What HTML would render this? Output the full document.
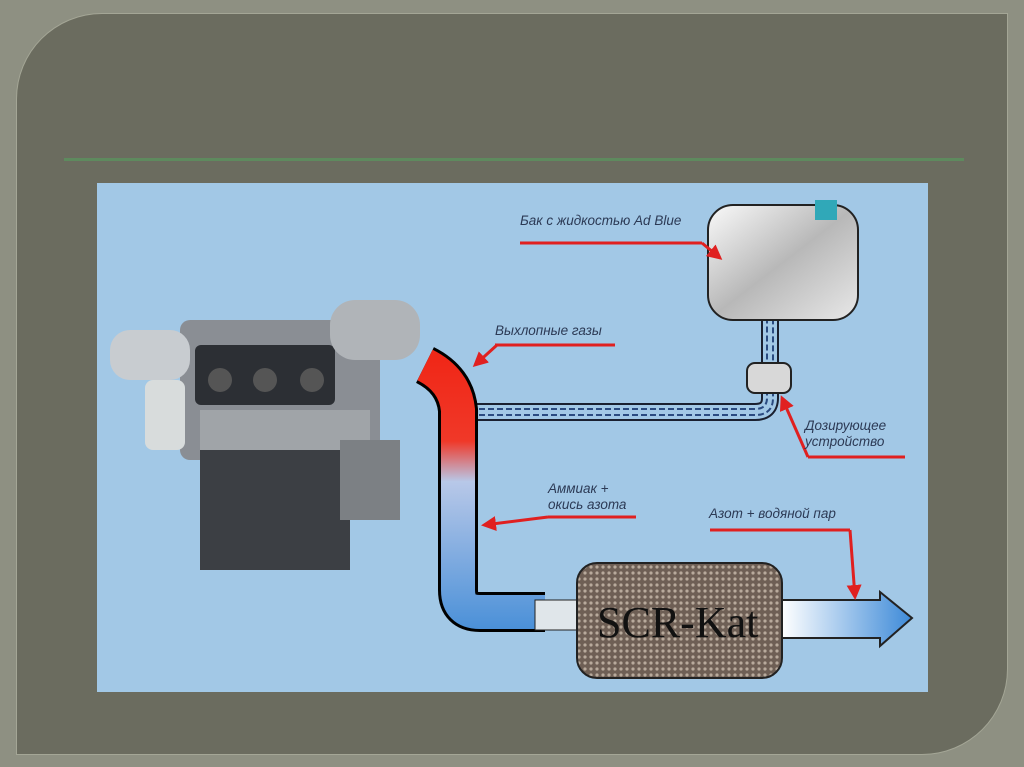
<!DOCTYPE html>
<html><head><meta charset="utf-8"><style>
body{margin:0;width:1024px;height:767px;background:#8e9082;overflow:hidden;font-family:"Liberation Sans",sans-serif}
#panel{position:absolute;left:17px;top:14px;width:990px;height:740px;background:#6b6c5f;border-radius:85px 0 85px 0;box-shadow:0 0 0 1px #a4a696}
#line{position:absolute;left:64px;top:158px;width:900px;height:3px;background:#5e8a5e}
#pic{position:absolute;left:97px;top:183px;width:831px;height:509px;background:#a2c8e6}
.t{position:absolute;font-style:italic;font-size:13.5px;color:#2c3a55}
</style></head><body>
<div id="panel"></div><div id="line"></div>
<div id="pic">
<svg width="831" height="509" viewBox="97 183 831 509" xmlns="http://www.w3.org/2000/svg">
<defs>
<linearGradient id="pipe" gradientUnits="userSpaceOnUse" x1="0" y1="360" x2="0" y2="630">
<stop offset="0" stop-color="#f02818"/><stop offset="0.3" stop-color="#f03828"/><stop offset="0.45" stop-color="#b8c8e8"/><stop offset="1" stop-color="#4a90d8"/></linearGradient>
<linearGradient id="tank" x1="0" y1="0" x2="1" y2="1"><stop offset="0" stop-color="#fafafa"/><stop offset="0.5" stop-color="#b8b8b8"/><stop offset="1" stop-color="#e8e8e8"/></linearGradient>
<pattern id="mesh" width="6" height="6" patternUnits="userSpaceOnUse"><rect width="6" height="6" fill="#6e5f55"/><circle cx="3" cy="3" r="1.6" fill="#b8aa9c"/></pattern>
<linearGradient id="out" x1="0" x2="1"><stop offset="0" stop-color="#ffffff"/><stop offset="1" stop-color="#3d8ad8"/></linearGradient>
<marker id="ah" markerWidth="5" markerHeight="5" refX="4" refY="2.5" orient="auto"><path d="M0,0 L5,2.5 L0,5 Z" fill="#e02020"/></marker>
</defs>
<g>
<rect x="180" y="320" width="200" height="140" fill="#8a8e94" rx="10"/>
<rect x="200" y="440" width="150" height="130" fill="#3c3f44"/>
<rect x="110" y="330" width="80" height="50" fill="#c8ccd0" rx="20"/>
<rect x="145" y="380" width="40" height="70" fill="#d8dcdc" rx="8"/>
<rect x="195" y="345" width="140" height="60" fill="#2c2f34" rx="6"/>
<circle cx="220" cy="380" r="12" fill="#555"/><circle cx="265" cy="380" r="12" fill="#555"/><circle cx="312" cy="380" r="12" fill="#555"/>
<rect x="330" y="300" width="90" height="60" fill="#b0b4b8" rx="25"/>
<rect x="200" y="410" width="170" height="40" fill="#a0a4a8"/>
<rect x="340" y="440" width="60" height="80" fill="#7c8084"/>
</g>
<path d="M470 412 L755 412 Q770 412 770 398 L770 318" fill="none" stroke="#1a2030" stroke-width="18"/>
<path d="M470 412 L755 412 Q770 412 770 398 L770 318" fill="none" stroke="#a2c8e6" stroke-width="14"/>
<path d="M470 409 L755 409 Q767 409 767 398 L767 318 M470 415 L755 415 Q773 415 773 398 L773 318" fill="none" stroke="#2a4a80" stroke-width="2" stroke-dasharray="6 3"/>
<path d="M425 365 Q455 380 458 410 L458 590 Q458 612 480 612 L545 612" fill="none" stroke="#000" stroke-width="40"/>
<path d="M425 365 Q455 380 458 410 L458 590 Q458 612 480 612 L545 612" fill="none" stroke="url(#pipe)" stroke-width="34"/>
<rect x="747" y="363" width="44" height="30" rx="8" fill="#d8d8d8" stroke="#222" stroke-width="2"/>
<rect x="708" y="205" width="150" height="115" rx="25" fill="url(#tank)" stroke="#222" stroke-width="2"/>
<rect x="815" y="200" width="22" height="20" fill="#30a8b8"/>
<path d="M535 600 L580 600 L580 630 L535 630 Z" fill="#e0e6ea" stroke="#222"/>
<rect x="577" y="563" width="205" height="115" rx="20" fill="url(#mesh)" stroke="#222" stroke-width="2"/>
<path d="M782 600 L880 600 L880 592 L912 618 L880 646 L880 638 L782 638 Z" fill="url(#out)" stroke="#222" stroke-width="2"/>
<text x="597" y="637" font-family="Liberation Serif,serif" font-size="44" fill="#111">SCR-Kat</text>
<g stroke="#e02020" stroke-width="3" fill="none">
<line x1="520" y1="243" x2="702" y2="243"/><polyline points="702,243 720,258" marker-end="url(#ah)"/>
<line x1="495" y1="345" x2="615" y2="345"/><polyline points="497,345 475,365" marker-end="url(#ah)"/>
<line x1="808" y1="457" x2="905" y2="457"/><polyline points="808,457 782,398" marker-end="url(#ah)"/>
<line x1="548" y1="517" x2="636" y2="517"/><polyline points="548,517 484,525" marker-end="url(#ah)"/>
<line x1="710" y1="530" x2="850" y2="530"/><polyline points="850,530 855,597" marker-end="url(#ah)"/>
</g>
</svg>
<div class="t" style="left:423px;top:30px">Бак с жидкостью Ad Blue</div>
<div class="t" style="left:398px;top:140px">Выхлопные газы</div>
<div class="t" style="left:708px;top:235px;line-height:16px">Дозирующее<br>устройство</div>
<div class="t" style="left:451px;top:298px;line-height:16px">Аммиак +<br>окись азота</div>
<div class="t" style="left:612px;top:323px">Азот + водяной пар</div>
</div>
</body></html>
